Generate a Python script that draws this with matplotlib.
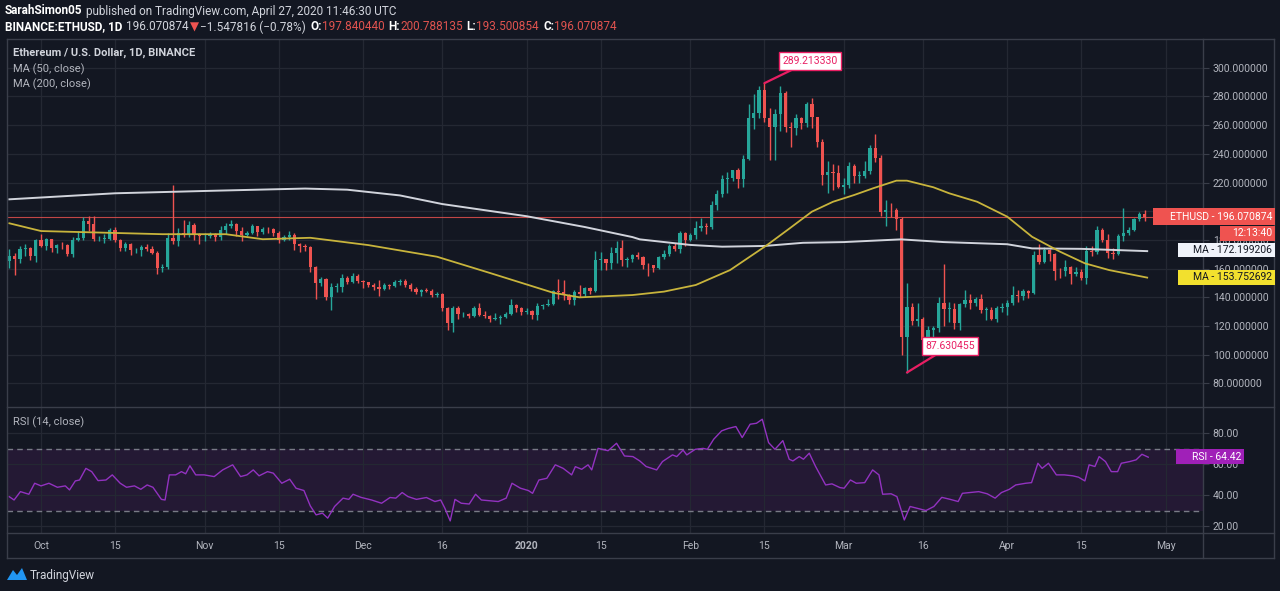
import numpy as np
import matplotlib
matplotlib.use('Agg')
import matplotlib.pyplot as plt
import matplotlib.patches as patches
from matplotlib.lines import Line2D
from matplotlib.ticker import FuncFormatter

# daily candles, 2019-09-25 .. 2020-04-27 (index 0 = Sep 25)
first_open = 165.6
closes = [
    169.1, 166.7, 173.9, 174.1, 169.0, 180.2,
    175.8, 180.7, 174.6, 176.5, 176.2, 170.4, 180.0, 181.1, 193.1, 191.2, 180.6, 180.8, 180.9, 186.7, 180.2, 174.4,
    177.2, 172.7, 172.7, 175.2, 174.0, 171.1, 160.4, 161.1, 181.5, 179.6, 184.8, 183.9, 190.5, 183.4, 182.5,
    182.9, 183.9, 181.8, 186.9, 189.4, 191.2, 186.2, 183.5, 185.1, 189.4, 185.8, 187.4, 187.3, 184.8, 180.1,
    182.1, 183.7, 177.4, 175.9, 175.1, 161.4, 149.8, 152.7, 140.4, 147.5, 147.5, 153.3, 151.0, 155.2, 151.7,
    150.9, 148.9, 147.2, 146.0, 148.4, 148.1, 150.7, 151.3, 148.9, 145.9, 143.5, 144.8, 144.7, 141.6, 142.4,
    132.7, 121.9, 132.8, 128.1, 128.5, 127.2, 132.9, 128.0, 127.1, 125.2, 125.6, 126.3, 128.4, 134.7, 132.3, 129.6,
    130.8, 127.4, 134.2, 134.4, 135.7, 144.3, 143.5, 141.3, 138.1, 143.9, 142.6, 146.6, 144.5, 166.0, 166.7,
    163.6, 171.0, 174.2, 166.3, 166.9, 169.2, 168.2, 162.5, 162.3, 160.6, 168.0, 170.2, 175.5, 173.7, 184.7, 179.9,
    183.6, 188.6, 189.9, 189.3, 204.2, 212.3, 222.7, 223.1, 228.6, 222.7, 236.7, 265.3, 268.1, 284.2, 264.7,
    258.9, 267.8, 282.2, 258.6, 258.0, 265.3, 261.6, 274.5, 265.4, 248.4, 225.1, 227.2, 226.7, 217.2,
    218.0, 231.6, 224.5, 224.5, 228.3, 244.1, 237.2, 199.5, 201.0, 200.8, 194.9, 112.3, 133.2, 123.3, 125.2,
    110.6, 117.1, 118.7, 136.3, 132.2, 132.2, 122.3, 135.1, 138.2, 136.3, 138.8, 131.4, 131.4, 125.2, 132.4, 133.2,
    136.2, 141.4, 141.1, 144.2, 142.9, 169.6, 164.6, 173.2, 170.4, 158.4, 158.1, 161.1, 156.3, 157.6, 153.3,
    172.2, 171.6, 187.0, 180.1, 170.8, 170.3, 182.6, 184.7, 187.0, 194.3, 197.84044, 196.070874,
]
highs = [
    173.5, 171.0, 175.5, 177.0, 175.0, 181.0,
    184.0, 181.5, 181.0, 177.0, 178.5, 177.0, 182.0, 186.0, 196.0, 196.5, 197.0, 183.0, 184.0, 188.0, 189.0, 180.5,
    178.5, 178.0, 174.5, 176.5, 177.0, 176.0, 172.0, 163.5, 185.0, 218.0, 188.0, 194.0, 193.0, 191.5, 185.0,
    185.0, 185.5, 185.0, 190.0, 192.0, 194.0, 192.0, 189.0, 186.5, 191.0, 190.0, 189.0, 189.0, 188.0, 186.0,
    183.5, 186.0, 184.5, 178.0, 177.5, 176.0, 162.0, 154.0, 153.5, 150.0, 150.0, 156.0, 155.0, 157.0, 156.5,
    152.0, 151.0, 150.0, 152.0, 150.0, 149.5, 152.0, 152.5, 153.0, 150.0, 147.0, 146.0, 146.5, 145.5, 144.0,
    143.0, 133.5, 134.0, 134.0, 129.5, 129.0, 134.0, 136.0, 130.5, 127.5, 129.0, 128.0, 129.5, 139.0, 135.5, 133.5,
    132.5, 131.0, 136.0, 135.5, 139.0, 145.0, 153.0, 152.0, 142.0, 145.0, 148.5, 147.0, 147.5, 172.0, 171.5,
    167.0, 175.0, 179.0, 180.0, 168.0, 170.0, 171.5, 168.5, 164.0, 162.5, 168.5, 173.0, 177.5, 178.0, 186.0, 185.5,
    185.0, 193.0, 195.0, 192.0, 207.0, 215.0, 225.0, 227.0, 229.0, 230.0, 239.0, 275.0, 282.0, 287.0, 289.21333,
    272.0, 271.0, 287.5, 284.0, 262.0, 267.5, 266.0, 276.0, 279.0, 266.0, 250.0, 235.0, 233.0, 232.0,
    223.0, 234.0, 233.0, 228.0, 235.0, 246.0, 254.0, 239.0, 208.0, 206.0, 202.0, 196.0, 150.0, 136.0, 136.0,
    126.0, 120.0, 120.0, 140.0, 163.0, 137.0, 136.0, 136.0, 145.0, 142.0, 140.0, 142.0, 133.0, 133.0, 134.0, 136.0,
    138.0, 148.0, 145.0, 146.0, 145.0, 172.0, 177.0, 175.0, 174.0, 171.0, 160.5, 166.0, 161.5, 161.0, 160.0,
    176.0, 176.0, 190.0, 188.0, 184.0, 174.5, 184.0, 202.0, 189.0, 195.5, 199.5, 200.788135,
]
lows = [
    160.5, 155.5, 164.0, 169.0, 166.0, 164.5,
    175.0, 173.0, 171.5, 171.0, 174.0, 169.0, 168.0, 179.0, 180.0, 186.0, 179.0, 179.0, 178.0, 180.0, 178.5, 172.5,
    172.5, 169.5, 171.0, 168.5, 172.5, 170.0, 156.0, 158.0, 160.0, 177.0, 176.0, 182.0, 182.0, 180.0, 177.0,
    179.0, 181.5, 179.5, 180.0, 184.0, 188.0, 183.0, 179.0, 182.5, 184.0, 183.0, 184.0, 185.0, 183.0, 178.0,
    179.0, 180.0, 173.0, 171.5, 172.5, 158.0, 139.0, 148.0, 138.0, 131.0, 144.0, 143.5, 149.0, 150.0, 150.0,
    146.5, 147.0, 145.0, 141.0, 145.0, 145.5, 147.5, 148.5, 147.0, 144.5, 142.5, 141.0, 143.5, 140.5, 140.5,
    130.5, 117.0, 116.0, 125.0, 126.5, 125.5, 126.5, 127.0, 125.5, 122.5, 124.5, 121.5, 125.5, 127.5, 130.0, 128.0,
    128.5, 125.0, 124.5, 132.0, 134.0, 135.0, 139.0, 138.0, 135.5, 135.0, 140.5, 140.5, 142.0, 143.5, 159.0,
    159.0, 160.0, 164.0, 162.0, 161.0, 164.5, 166.5, 159.5, 155.0, 157.5, 159.5, 166.5, 169.0, 172.0, 171.0, 176.0,
    179.0, 181.0, 186.0, 184.0, 187.5, 201.0, 210.0, 213.0, 221.0, 216.0, 217.0, 236.0, 257.0, 265.0, 262.0,
    236.0, 236.0, 256.0, 255.0, 245.0, 253.0, 257.0, 259.0, 258.0, 245.0, 218.0, 213.0, 215.0, 216.0,
    212.0, 216.0, 220.0, 220.0, 223.0, 226.0, 234.0, 197.0, 190.0, 196.0, 187.0, 100.0, 87.630455, 121.0, 120.0,
    103.0, 108.0, 111.0, 116.0, 120.0, 123.0, 118.0, 117.0, 133.0, 132.0, 134.0, 129.0, 124.0, 124.0, 123.0, 130.0,
    127.5, 134.5, 137.0, 138.0, 139.5, 142.0, 163.0, 164.0, 165.5, 152.0, 153.5, 155.0, 149.0, 155.0, 152.0,
    149.5, 168.5, 170.5, 178.5, 167.5, 166.5, 169.5, 179.0, 183.5, 186.0, 193.0, 193.500854,
]

# moving averages (candle index, value)
ma50_idx = [0, 6, 29, 41, 48, 57, 68, 81, 91, 103, 108, 118, 124, 130, 136.5, 143.5, 147.8, 152, 156, 160,
            163.6, 168, 170, 175, 178, 183.3, 189, 193.7, 199, 203.7, 208.3, 215.5]
ma50_val = [191.6, 186.2, 184.0, 184.0, 180.5, 181.5, 176.4, 168.3, 157.0, 143.2, 140.0, 141.6, 144.0, 148.6,
            159.0, 176.4, 188.1, 199.7, 206.6, 211.3, 216.0, 221.3, 221.3, 216.7, 212.5, 206.6, 196.2, 182.2,
            171.8, 163.7, 159.0, 153.752692]
ma200_idx = [0, 20, 39, 56, 64, 74, 82, 98, 109, 118, 119.4, 129, 135, 143, 150.3, 158, 168.9, 177, 189,
             193.7, 203, 215.5]
ma200_val = [208.3, 212.5, 214.3, 215.8, 215.0, 211.0, 205.0, 196.5, 189.0, 182.0, 180.4, 176.5, 175.3,
             175.8, 178.0, 178.5, 180.4, 178.5, 177.0, 174.1, 173.8, 172.199206]

# RSI(14) (candle index, value)
rsi_idx = [0, 0.9, 2.1, 3.7, 4.8, 6.0, 7.5, 9.1, 10.6, 11.4, 12.5, 13.3, 14.5, 15.6, 16.8, 18.3, 19.5, 21.0,
           22.2, 23.7, 24.9, 26.1, 27.2, 28.8, 29.5, 30.3, 31.5, 32.6, 33.4, 34.2, 35.3, 36.9, 38.8, 40.4, 42.3,
           43.8, 45.0, 46.2, 47.3, 48.9, 50.0, 51.6, 53.1, 54.3, 55.8, 57.0, 58.1, 59.3, 60.3, 61.6, 63.2, 64.3,
           65.1, 66.6, 68.6, 70.5, 72.1, 73.2, 74.4, 75.5, 77.1, 79.0, 80.6, 81.7, 82.5, 83.5, 84.4, 85.6, 87.1,
           88.3, 89.4, 91.0, 92.6, 94.1, 95.2, 96.8, 98.3, 99.1, 100.3, 101.8, 103.4, 104.9, 106.5, 107.2, 108.4,
           109.6, 110.3, 111.5, 113.4, 115.0, 116.5, 118.1, 119.4, 120.6, 122.6, 123.7, 125.6, 126.4, 127.6,
           128.3, 129.9, 131.4, 132.2, 133.4, 134.9, 136.1, 137.6, 138.8, 140.3, 141.5, 142.6, 143.8, 145.0,
           146.5, 147.7, 148.4, 149.6, 150.4, 151.5, 152.7, 154.6, 155.8, 157.3, 158.1, 159.3, 160.4, 162.0,
           163.5, 164.7, 165.4, 167.0, 168.1, 169.5, 170.6, 172.0, 173.6, 175.1, 176.6, 178.2, 179.7, 180.5,
           182.0, 183.6, 185.2, 186.7, 187.9, 189.4, 190.6, 192.5, 193.6, 194.8, 195.6, 196.8, 198.3, 199.8,
           201.4, 202.5, 203.7, 204.5, 205.6, 206.4, 207.6, 208.7, 209.9, 210.6, 212.2, 213.4, 214.5, 215.7]
rsi_val = [38.9, 36.8, 42.2, 40.5, 47.6, 45.9, 47.6, 45.0, 45.9, 43.3, 49.1, 49.7, 57.2, 55.1, 49.3, 49.7, 53.0,
           47.6, 45.0, 45.9, 43.7, 46.5, 45.0, 37.2, 36.8, 53.0, 53.0, 55.1, 53.7, 58.9, 53.0, 53.0, 51.9, 56.2,
           59.5, 51.9, 53.0, 56.2, 52.4, 55.1, 54.1, 47.6, 50.2, 44.4, 42.9, 33.0, 27.2, 28.3, 25.1, 32.6, 38.0,
           37.2, 40.5, 38.5, 36.8, 34.7, 38.4, 38.0, 41.6, 39.0, 37.2, 38.4, 35.8, 36.8, 31.4, 23.3, 37.2, 34.7,
           34.2, 40.5, 36.8, 36.3, 35.8, 38.0, 47.6, 44.4, 42.9, 41.1, 49.7, 50.8, 59.5, 57.2, 53.0, 58.3, 56.6,
           59.5, 56.2, 70.1, 68.6, 73.4, 65.2, 64.8, 62.0, 58.4, 56.2, 61.6, 65.9, 64.8, 69.0, 65.9, 69.5, 70.1,
           69.5, 76.0, 81.4, 82.9, 84.2, 77.1, 85.7, 86.3, 88.9, 73.8, 69.5, 75.1, 63.1, 62.0, 64.8, 63.1, 67.0,
           58.4, 46.5, 47.2, 44.8, 44.4, 49.7, 47.6, 48.0, 56.2, 53.0, 40.5, 40.8, 39.0, 23.9, 32.6, 31.4, 30.0,
           32.6, 38.5, 37.2, 35.8, 41.1, 41.6, 42.2, 40.8, 38.0, 41.6, 43.7, 46.5, 47.6, 48.0, 60.5, 57.2, 60.5,
           53.0, 53.0, 52.4, 51.5, 49.1, 59.5, 58.4, 64.8, 61.6, 55.1, 55.1, 60.5, 61.6, 62.7, 66.3, 64.42]

tick_idx = [6, 20, 37, 51, 67, 82, 98, 112, 129, 143, 158, 173, 189, 203, 219]
tick_lbl = ['Oct', '15', 'Nov', '15', 'Dec', '16', '2020', '15', 'Feb', '15', 'Mar', '16', 'Apr', '15', 'May']

W, H = 1280, 591
BG = '#131722'
GRID = '#242833'
FRAME = '#3a3e4a'
TXT = '#b2b5be'
GREEN = '#26a69a'
RED = '#ef5350'

plt.rcParams['font.family'] = ['Roboto', 'DejaVu Sans']


def fx(x):
    return x / W


def fy(y):
    return 1 - y / H


fig = plt.figure(figsize=(12.8, 5.91), dpi=100, facecolor=BG)
ax = fig.add_axes([fx(7), fy(407), 1196 / W, 368 / H], facecolor=BG)
ax2 = fig.add_axes([fx(7), fy(533), 1196 / W, 126 / H], facecolor=BG, sharex=ax)

# ---- candles
c = np.array(closes)
o = np.array([first_open] + closes[:-1])
hi = np.array(highs)
lo = np.array(lows)
idx = np.arange(len(c))
col = np.where(c >= o, GREEN, RED)
ax.vlines(idx, lo, hi, colors=col, lw=1, zorder=3)
ax.bar(idx, np.maximum(np.abs(c - o), 0.4), bottom=np.minimum(o, c), width=0.62,
       color=col, lw=0, zorder=4)

ax.plot(ma200_idx, ma200_val, color='#d1d4dc', lw=1.4, zorder=5)
ax.plot(ma50_idx, ma50_val, color='#c8b43c', lw=1.3, zorder=5)
ax.axhline(c[-1], color=RED, lw=0.8, alpha=0.8, zorder=2)

ax.set_xlim(-0.44, 226.07)
ax.set_ylim(63.6, 320)
ax.set_yticks(range(80, 301, 20))
# the 200 label sits fully under the last-price tag
ax.yaxis.set_major_formatter(FuncFormatter(lambda v, p: '' if round(v) == 200 else f'{v:.6f}'))
ax.yaxis.tick_right()
ax.tick_params(axis='y', length=4, color=FRAME, labelcolor=TXT, labelsize=7.5, pad=3)
ax.tick_params(axis='x', length=0, labelbottom=False)
ax.grid(True, color=GRID, lw=0.9, zorder=0)

# extremes callouts
ipk = int(np.argmax(hi))
ilo = int(np.argmin(lo))
for i, v, off in [(ipk, hi[ipk], (33, 16)), (ilo, lo[ilo], (31, 19))]:
    ax.annotate(f'{v:.6f}', xy=(i, v), xytext=off,
                textcoords='offset points', ha='center', va='center',
                color='#e91e63', fontsize=7.5, zorder=8,
                bbox=dict(boxstyle='square,pad=0.35', fc='white', ec='#e91e63', lw=1),
                arrowprops=dict(arrowstyle='-', color='#e91e63', lw=1.6,
                                shrinkA=0, shrinkB=0))

ax.text(6 / 1196, 1 - (53 - 39) / 368, 'Ethereum / U.S. Dollar, 1D, BINANCE',
        transform=ax.transAxes, color='#d1d4dc', fontsize=8, fontweight='bold', va='center')
ax.text(6 / 1196, 1 - (69 - 39) / 368, 'MA (50, close)', transform=ax.transAxes,
        color=TXT, fontsize=8, va='center')
ax.text(6 / 1196, 1 - (84 - 39) / 368, 'MA (200, close)', transform=ax.transAxes,
        color=TXT, fontsize=8, va='center')

# ---- RSI pane
ax2.axhspan(30, 70, color='#9c27b0', alpha=0.13, lw=0, zorder=1)
for lvl in (70, 30):
    ax2.axhline(lvl, color='#787b86', ls=(0, (4, 3)), lw=1, zorder=2)
ax2.plot(rsi_idx, rsi_val, color='#9232c0', lw=1.0, zorder=3)
ax2.set_ylim(15.5, 96.8)
ax2.set_yticks([20, 40, 60, 80])
ax2.yaxis.set_major_formatter(FuncFormatter(lambda v, p: f'{v:.2f}'))
ax2.yaxis.tick_right()
ax2.tick_params(axis='y', length=4, color=FRAME, labelcolor=TXT, labelsize=7.5, pad=3)
ax2.set_xticks(tick_idx)
ax2.set_xticklabels(tick_lbl)
ax2.tick_params(axis='x', length=0, labelcolor=TXT, labelsize=7.5, pad=6)
ax2.get_xticklabels()[6].set_fontweight('bold')
ax2.grid(True, color=GRID, lw=0.9, zorder=0)
ax2.text(6 / 1196, 1 - (422 - 407) / 126, 'RSI (14, close)', transform=ax2.transAxes,
         color=TXT, fontsize=8, va='center')

for a in (ax, ax2):
    for s in a.spines.values():
        s.set_visible(False)

# ---- frame lines
for (x0, y0, x1, y1) in [(7, 39, 1274, 39), (7, 558, 1274, 558), (7, 39, 7, 558),
                         (1274, 39, 1274, 558), (1203, 39, 1203, 558),
                         (7, 407, 1274, 407), (7, 533, 1274, 533)]:
    fig.add_artist(Line2D([fx(x0), fx(x1)], [fy(y0), fy(y1)], color=FRAME, lw=1))


# ---- right-side value labels
def tag(x0, y0, x1, y1, fc, s, tc):
    fig.add_artist(patches.Rectangle((fx(x0), fy(y1)), (x1 - x0) / W, (y1 - y0) / H,
                                     transform=fig.transFigure, fc=fc, ec='none', zorder=6))
    fig.text(fx(x1 - 3), fy((y0 + y1) / 2), s, color=tc, fontsize=7.5, ha='right',
             va='center', zorder=7)


tag(1153, 208, 1275, 225, RED, f'ETHUSD - {c[-1]:.6f}', 'white')
tag(1220, 226, 1275, 241, RED, '12:13:40', 'white')
tag(1178, 243, 1275, 257, '#f0f3fa', f'MA - {ma200_val[-1]:.6f}', '#131722')
tag(1178, 270, 1275, 285, '#f2e02e', f'MA - {ma50_val[-1]:.6f}', '#131722')
tag(1176, 449, 1244, 464, '#a020b8', f'RSI - {rsi_val[-1]:.2f}', 'white')

# ---- header
renderer = fig.canvas.get_renderer()


def text_run(x, y, pieces, size):
    for s, color, weight, gap in pieces:
        t = fig.text(fx(x), fy(y), s, color=color, fontsize=size, fontweight=weight,
                     va='center', ha='left')
        x += t.get_window_extent(renderer).width + gap


HEAD = '#d1d4dc'
VAL = '#e0534f'
text_run(5, 11, [('SarahSimon05', 'white', 'bold', 3.5),
                 ('published on TradingView.com, April 27, 2020 11:46:30 UTC', HEAD, 'normal', 0)], 8.5)
text_run(5, 27, [('BINANCE:ETHUSD, 1D', 'white', 'bold', 3.5),
                 ('196.070874', HEAD, 'normal', 1),
                 ('▼', RED, 'normal', 2),
                 ('−1.547816 (−0.78%)', HEAD, 'normal', 4),
                 ('O:', 'white', 'bold', 0), ('197.840440', VAL, 'normal', 4),
                 ('H:', 'white', 'bold', 0), ('200.788135', VAL, 'normal', 4),
                 ('L:', 'white', 'bold', 0), ('193.500854', VAL, 'normal', 4),
                 ('C:', 'white', 'bold', 0), ('196.070874', VAL, 'normal', 0)], 8.5)

# ---- watermark
fig.add_artist(patches.Polygon([(fx(7), fy(580)), (fx(13), fy(570)), (fx(17), fy(575)),
                                (fx(22), fy(568)), (fx(27), fy(580))],
                               closed=True, transform=fig.transFigure, fc='#2196f3', ec='none'))
fig.text(fx(30), fy(575), 'TradingView', color=HEAD, fontsize=8.5, va='center')

fig.savefig('out.png', dpi=100, facecolor=BG)
